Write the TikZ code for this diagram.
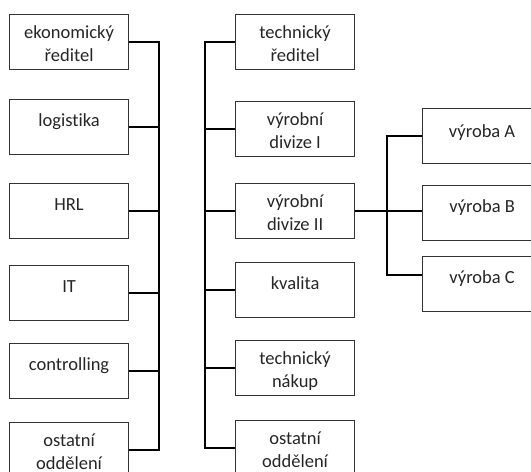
\documentclass[tikz,border=0pt]{standalone}
\usepackage{fontspec}
\setmainfont[Ligatures={NoCommon}]{Carlito}
\usetikzlibrary{calc}
\newcommand{\bxt}[2]{\parbox[t][55pt][t]{119pt}{\centering\fontsize{18.5pt}{23pt}\selectfont\rule{0pt}{#1pt}#2}}
\tikzset{
  orgbox/.style={draw=black!80, line width=1.2pt, rectangle, inner sep=0pt, anchor=north west, text=black!85},
  conn/.style={draw=black, line width=2pt, line join=miter}
}
\begin{document}
\begin{tikzpicture}[x=1pt,y=-1pt]
\clip (0,0) rectangle (531,472);
\fill[white] (0,0) rectangle (531,472);
% left column
\node[orgbox] (l1) at (9,14)  {\bxt{24}{ekonomický\\ředitel}};
\node[orgbox] (l2) at (9,99)  {\bxt{27}{logistika}};
\node[orgbox] (l3) at (9,183) {\bxt{27}{HRL}};
\node[orgbox] (l4) at (9,265) {\bxt{27}{IT}};
\node[orgbox] (l5) at (9,343) {\bxt{27}{controlling}};
\node[orgbox] (l6) at (9,422) {\bxt{24}{ostatní\\oddělení}};
% middle column
\node[orgbox] (m1) at (235,14)  {\bxt{24}{technický\\ředitel}};
\node[orgbox] (m2) at (235,101) {\bxt{24}{výrobní\\divize I}};
\node[orgbox] (m3) at (235,183) {\bxt{24}{výrobní\\divize II}};
\node[orgbox] (m4) at (235,262) {\bxt{27}{kvalita}};
\node[orgbox] (m5) at (235,340) {\bxt{24}{technický\\nákup}};
\node[orgbox] (m6) at (235,420) {\bxt{24}{ostatní\\oddělení}};
% right column
\node[orgbox] (r1) at (422,108) {\bxt{29}{výroba A}};
\node[orgbox] (r2) at (422,185) {\bxt{27}{výroba B}};
\node[orgbox] (r3) at (422,256) {\bxt{27}{výroba C}};
% spines
\coordinate (lv) at (159,0);
\coordinate (mv) at (205,0);
\coordinate (rv) at (387,0);
\coordinate (r3c) at ($(r3.north west)+(0,19)$);
% left connectors
\draw[conn] (l1.east) -| (l6.east -| lv) -- (l6.east);
\foreach \n in {l2,l3,l4,l5} \draw[conn] (\n.east) -- (\n.east -| lv);
% middle connectors
\draw[conn] (m1.west) -| (m6.west -| mv) -- (m6.west);
\foreach \n in {m2,m3,m4,m5} \draw[conn] (\n.west) -- (\n.west -| mv);
% right connectors
\draw[conn] (m3.east) -- (m3.east -| r2.west);
\draw[conn] (r1.west) -| (r3c -| rv) -- (r3c);
\end{tikzpicture}
\end{document}
